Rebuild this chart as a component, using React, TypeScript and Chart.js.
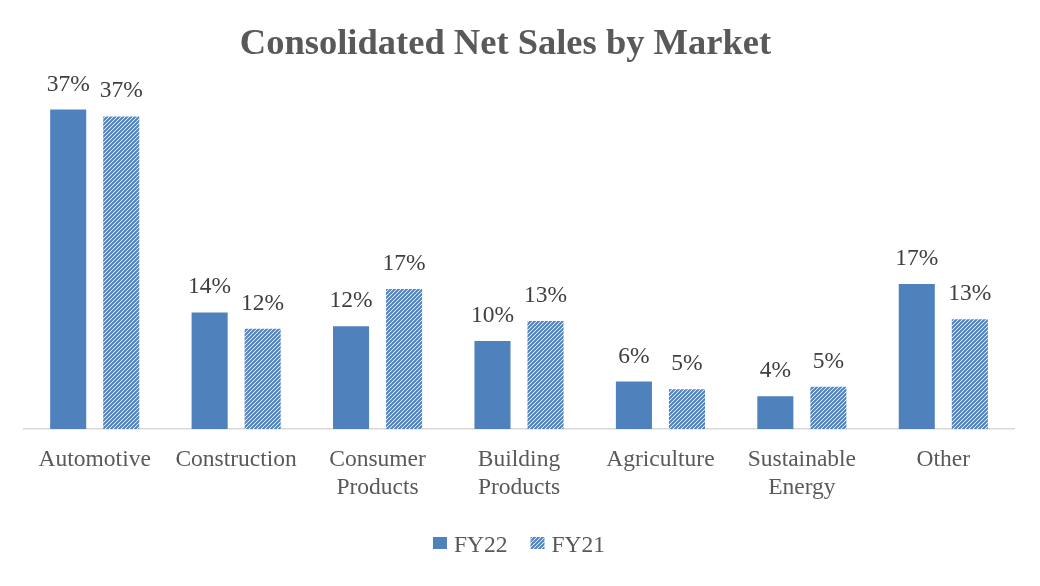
import React, { useEffect, useRef } from 'react';
import { Chart, registerables } from 'chart.js';

Chart.register(...registerables);

const FONT = '"Liberation Serif", "Times New Roman", serif';

const title = 'Consolidated Net Sales by Market';
const categories: string[][] = [
  ['Automotive'],
  ['Construction'],
  ['Consumer', 'Products'],
  ['Building', 'Products'],
  ['Agriculture'],
  ['Sustainable', 'Energy'],
  ['Other'],
];
const fy22Values = [37.0, 13.5, 11.9, 10.2, 5.5, 3.8, 16.8];
const fy21Values = [36.2, 11.6, 16.2, 12.5, 4.6, 4.9, 12.7];
const fy22Labels = ['37%', '14%', '12%', '10%', '6%', '4%', '17%'];
const fy21Labels = ['37%', '12%', '17%', '13%', '5%', '5%', '13%'];
const seriesNames = ['FY22', 'FY21'];

const BLUE = '#4F81BD';

function makeHatch(): CanvasPattern | string {
  const s = 4;
  const c = document.createElement('canvas');
  c.width = s;
  c.height = s;
  const g = c.getContext('2d');
  if (!g) return BLUE;
  g.fillStyle = '#ffffff';
  g.fillRect(0, 0, s, s);
  g.strokeStyle = BLUE;
  g.lineWidth = 2;
  g.beginPath();
  g.moveTo(0, s);
  g.lineTo(s, 0);
  g.moveTo(-1, 1);
  g.lineTo(1, -1);
  g.moveTo(s - 1, s + 1);
  g.lineTo(s + 1, s - 1);
  g.stroke();
  const p = g.createPattern(c, 'repeat');
  return p || BLUE;
}

const decorPlugin = {
  id: 'decor',
  afterDatasetsDraw(chart: any) {
    const ctx = chart.ctx;
    const area = chart.chartArea;
    ctx.save();
    // data labels
    ctx.font = `23.5px ${FONT}`;
    ctx.fillStyle = '#404040';
    ctx.textAlign = 'center';
    ctx.textBaseline = 'alphabetic';
    chart.data.datasets.forEach((_ds: any, i: number) => {
      const meta = chart.getDatasetMeta(i);
      const labels = i === 0 ? fy22Labels : fy21Labels;
      meta.data.forEach((bar: any, j: number) => {
        ctx.fillText(labels[j], bar.x, bar.y - 19);
      });
    });
    // title
    ctx.font = `bold 36.5px ${FONT}`;
    ctx.fillStyle = '#595959';
    ctx.textAlign = 'center';
    ctx.fillText(title, 505.5, 54);
    // legend
    ctx.font = `23.5px ${FONT}`;
    ctx.textAlign = 'left';
    const box = 14;
    const boxGap = 7;
    const itemGap = 23;
    const widths = seriesNames.map((n) => box + boxGap + ctx.measureText(n).width);
    const total = widths[0] + itemGap + widths[1];
    let x = (area.left + area.right) / 2 - total / 2;
    seriesNames.forEach((n, i) => {
      const ds = chart.data.datasets[i];
      ctx.fillStyle = ds.backgroundColor;
      ctx.fillRect(x, 537, box, 12);
      ctx.fillStyle = '#595959';
      ctx.fillText(n, x + box + boxGap, 551.5);
      x += widths[i] + itemGap;
    });
    ctx.restore();
  },
};

export default function App() {
  const ref = useRef<HTMLCanvasElement | null>(null);

  useEffect(() => {
    if (!ref.current) return;
    const hatch = makeHatch();
    const chart = new Chart(ref.current, {
      type: 'bar',
      data: {
        labels: categories,
        datasets: [
          {
            label: seriesNames[0],
            data: fy22Values,
            backgroundColor: BLUE,
            borderWidth: 0,
            categoryPercentage: 0.75,
            barPercentage: 0.68,
          },
          {
            label: seriesNames[1],
            data: fy21Values,
            backgroundColor: hatch as any,
            borderWidth: 0,
            categoryPercentage: 0.75,
            barPercentage: 0.68,
          },
        ],
      },
      options: {
        responsive: false,
        animation: false,
        layout: { padding: { left: 24, right: 26, top: 83.6, bottom: 66.6 } },
        plugins: {
          title: { display: false },
          legend: { display: false },
          tooltip: { enabled: false },
        },
        scales: {
          x: {
            grid: { display: false, drawTicks: false },
            border: { display: true, color: '#D9D9D9', width: 1.5 },
            ticks: {
              color: '#595959',
              font: { family: FONT, size: 23.5 },
              padding: 17,
              maxRotation: 0,
              autoSkip: false,
            },
          },
          y: {
            display: false,
            min: 0,
            max: 40,
          },
        },
      },
      plugins: [decorPlugin],
    });
    return () => chart.destroy();
  }, []);

  return (
    <div style={{ position: 'absolute', left: 0, top: 0, width: 1040, height: 586, background: '#fff' }}>
      <canvas ref={ref} width={1040} height={586} style={{ display: 'block' }} />
    </div>
  );
}
